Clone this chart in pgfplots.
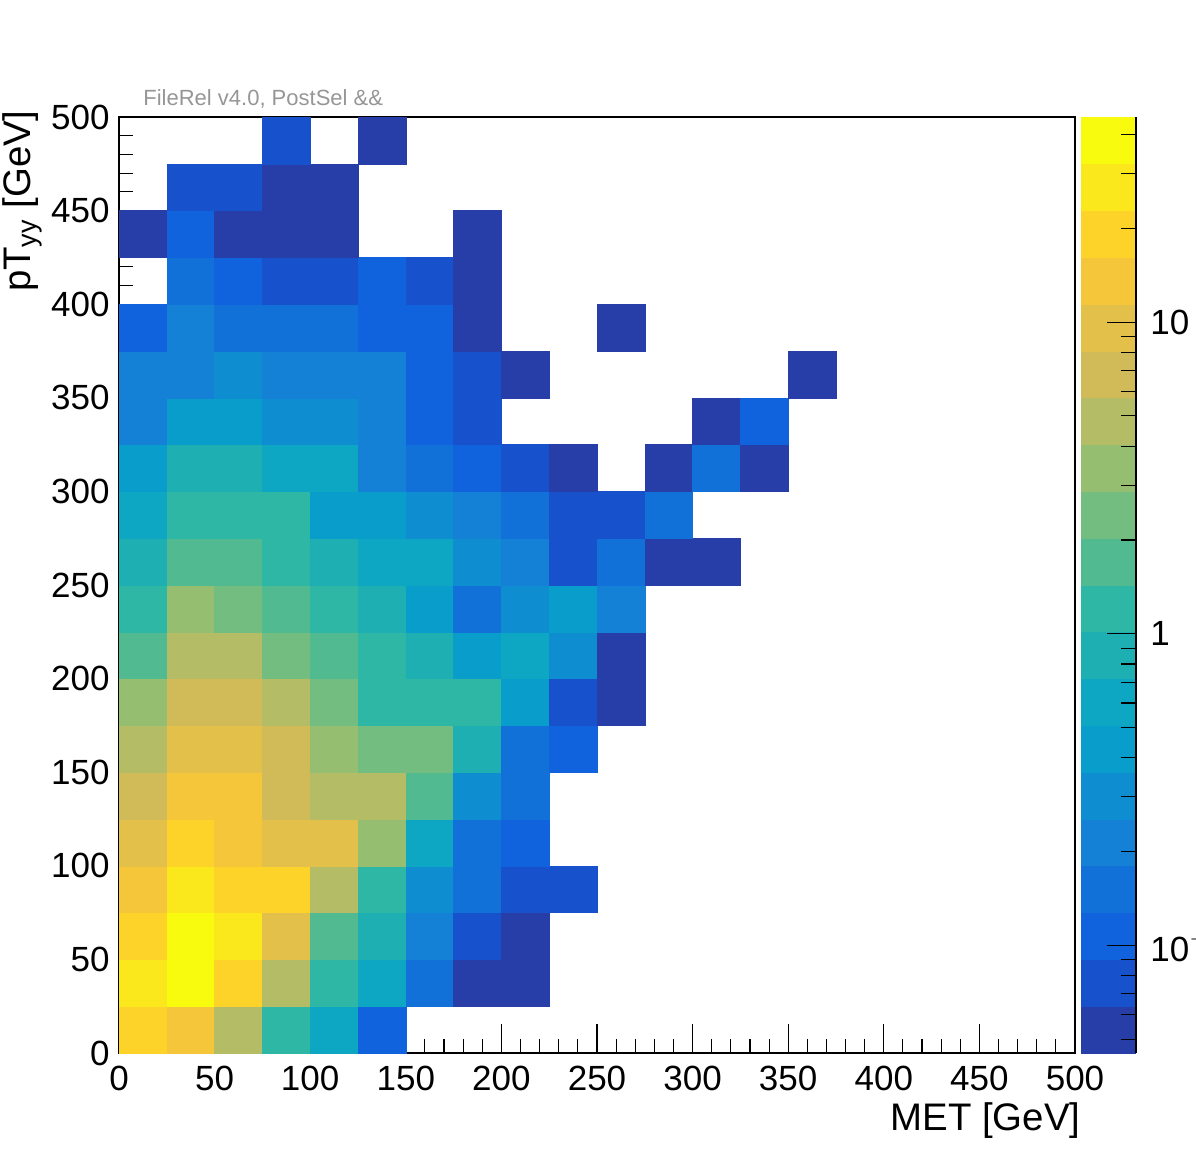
\documentclass[border=0pt]{standalone}
\usepackage{pgfplots}
\usepackage{pgfplotstable}
\pgfplotsset{compat=1.18}
\usepackage{fontspec}
\setmainfont{Liberation Sans}
\definecolor{titlegray}{RGB}{150,150,150}

% cell centres (x = MET, y = pT_yy) and bin content w
\pgfplotstableread{
x y w
12.5 12.5 19.17
37.5 12.5 13.57
62.5 12.5 4.808
87.5 12.5 1.206
112.5 12.5 0.6040
137.5 12.5 0.1073
12.5 37.5 27.09
37.5 37.5 38.28
62.5 37.5 19.17
87.5 37.5 4.808
112.5 37.5 1.206
137.5 37.5 0.6040
162.5 37.5 0.1516
187.5 37.5 0.0537
212.5 37.5 0.0537
12.5 62.5 19.17
37.5 62.5 38.28
62.5 62.5 27.09
87.5 62.5 9.601
112.5 62.5 1.704
137.5 62.5 0.8538
162.5 62.5 0.2142
187.5 62.5 0.0759
212.5 62.5 0.0537
12.5 87.5 13.57
37.5 87.5 27.09
62.5 87.5 19.17
87.5 87.5 19.17
112.5 87.5 4.808
137.5 87.5 1.206
162.5 87.5 0.3025
187.5 87.5 0.1516
212.5 87.5 0.0759
237.5 87.5 0.0759
12.5 112.5 9.601
37.5 112.5 19.17
62.5 112.5 13.57
87.5 112.5 9.601
112.5 112.5 9.601
137.5 112.5 3.403
162.5 112.5 0.6040
187.5 112.5 0.1516
212.5 112.5 0.1073
12.5 137.5 6.796
37.5 137.5 13.57
62.5 137.5 13.57
87.5 137.5 6.796
112.5 137.5 4.808
137.5 137.5 4.808
162.5 137.5 1.704
187.5 137.5 0.3025
212.5 137.5 0.1516
12.5 162.5 4.808
37.5 162.5 9.601
62.5 162.5 9.601
87.5 162.5 6.796
112.5 162.5 3.403
137.5 162.5 2.408
162.5 162.5 2.408
187.5 162.5 0.8538
212.5 162.5 0.1516
237.5 162.5 0.1073
12.5 187.5 3.403
37.5 187.5 6.796
62.5 187.5 6.796
87.5 187.5 4.808
112.5 187.5 2.408
137.5 187.5 1.206
162.5 187.5 1.206
187.5 187.5 1.206
212.5 187.5 0.4276
237.5 187.5 0.0759
262.5 187.5 0.0537
12.5 212.5 1.704
37.5 212.5 4.808
62.5 212.5 4.808
87.5 212.5 2.408
112.5 212.5 1.704
137.5 212.5 1.206
162.5 212.5 0.8538
187.5 212.5 0.4276
212.5 212.5 0.6040
237.5 212.5 0.3025
262.5 212.5 0.0537
12.5 237.5 1.206
37.5 237.5 3.403
62.5 237.5 2.408
87.5 237.5 1.704
112.5 237.5 1.206
137.5 237.5 0.8538
162.5 237.5 0.4276
187.5 237.5 0.1516
212.5 237.5 0.3025
237.5 237.5 0.4276
262.5 237.5 0.2142
12.5 262.5 0.8538
37.5 262.5 1.704
62.5 262.5 1.704
87.5 262.5 1.206
112.5 262.5 0.8538
137.5 262.5 0.6040
162.5 262.5 0.6040
187.5 262.5 0.3025
212.5 262.5 0.2142
237.5 262.5 0.0759
262.5 262.5 0.1516
287.5 262.5 0.0537
312.5 262.5 0.0537
12.5 287.5 0.6040
37.5 287.5 1.206
62.5 287.5 1.206
87.5 287.5 1.206
112.5 287.5 0.4276
137.5 287.5 0.4276
162.5 287.5 0.3025
187.5 287.5 0.2142
212.5 287.5 0.1516
237.5 287.5 0.0759
262.5 287.5 0.0759
287.5 287.5 0.1516
12.5 312.5 0.4276
37.5 312.5 0.8538
62.5 312.5 0.8538
87.5 312.5 0.6040
112.5 312.5 0.6040
137.5 312.5 0.2142
162.5 312.5 0.1516
187.5 312.5 0.1073
212.5 312.5 0.0759
237.5 312.5 0.0537
287.5 312.5 0.0537
312.5 312.5 0.1516
337.5 312.5 0.0537
12.5 337.5 0.2142
37.5 337.5 0.4276
62.5 337.5 0.4276
87.5 337.5 0.3025
112.5 337.5 0.3025
137.5 337.5 0.2142
162.5 337.5 0.1073
187.5 337.5 0.0759
312.5 337.5 0.0537
337.5 337.5 0.1073
12.5 362.5 0.2142
37.5 362.5 0.2142
62.5 362.5 0.3025
87.5 362.5 0.2142
112.5 362.5 0.2142
137.5 362.5 0.2142
162.5 362.5 0.1073
187.5 362.5 0.0759
212.5 362.5 0.0537
362.5 362.5 0.0537
12.5 387.5 0.1073
37.5 387.5 0.2142
62.5 387.5 0.1516
87.5 387.5 0.1516
112.5 387.5 0.1516
137.5 387.5 0.1073
162.5 387.5 0.1073
187.5 387.5 0.0537
262.5 387.5 0.0537
37.5 412.5 0.1516
62.5 412.5 0.1073
87.5 412.5 0.0759
112.5 412.5 0.0759
137.5 412.5 0.1073
162.5 412.5 0.0759
187.5 412.5 0.0537
12.5 437.5 0.0537
37.5 437.5 0.1073
62.5 437.5 0.0537
87.5 437.5 0.0537
112.5 437.5 0.0537
187.5 437.5 0.0537
37.5 462.5 0.0759
62.5 462.5 0.0759
87.5 462.5 0.0537
112.5 462.5 0.0537
87.5 487.5 0.0759
137.5 487.5 0.0537
}\cells

\begin{document}
\begin{tikzpicture}
\begin{axis}[
  at={(59.5pt,59.5pt)}, anchor=south west,
  scale only axis, width=478pt, height=468pt,
  xmin=0, xmax=500, ymin=0, ymax=500,
  xtick={0,50,...,500}, ytick={0,50,...,500},
  minor x tick num=4, minor y tick num=4,
  tick pos=left, tick align=inside,
  major tick length=14.5pt, minor tick length=7.2pt,
  tick style={black, line width=0.55pt},
  axis line style={black, line width=0.6pt},
  axis on top,
  /pgf/number format/assume math mode=true,
  ticklabel style={font=\fontsize{17.5}{18}\selectfont},
  xticklabel style={inner sep=0pt, anchor=north, yshift=-6.5pt},
  yticklabel style={inner sep=0pt, anchor=east, xshift=-4.5pt},
  xlabel={MET [GeV]},
  ylabel={pT\textsubscript{yy} [GeV]},
  every axis x label/.style={at={(axis description cs:1.006,-0.083)}, anchor=base east, inner sep=0pt, font=\fontsize{19.2}{20}\selectfont},
  every axis y label/.style={at={(axis description cs:-0.0925,1.0075)}, rotate=90, anchor=base east, inner sep=0pt, font=\fontsize{19.2}{20}\selectfont},
  title={FileRel v4.0, PostSel \&\&},
  every axis title/.style={at={(axis description cs:0.0251,1.0128)}, anchor=base west, inner sep=0pt, font=\fontsize{11}{12}\selectfont, text=titlegray},
  colormap={bird}{rgb255=(39,61,168) rgb255=(23,81,203) rgb255=(16,99,220) rgb255=(18,113,217) rgb255=(20,128,214) rgb255=(14,142,209) rgb255=(9,157,204) rgb255=(13,167,195) rgb255=(30,175,179) rgb255=(46,183,164) rgb255=(82,186,145) rgb255=(116,189,128) rgb255=(150,190,113) rgb255=(180,189,101) rgb255=(209,187,89) rgb255=(227,192,74) rgb255=(245,198,58) rgb255=(253,211,42) rgb255=(251,232,28) rgb255=(249,251,14)},
  colormap access=piecewise constant,
  point meta min=-1.345, point meta max=1.658,
  colorbar,
  colorbar shift/.style={xshift=3pt},
  colorbar style={
    at={(parent axis.north east)}, anchor=north west,
    scale only axis, width=27.5pt, height=468pt,
    colormap access=piecewise constant,
    axis on top,
    axis x line=none,
    axis y line*=right,
    y axis line style={-, black, line width=0.6pt},
    ytick={-1,0,1},
    yticklabels={10\raisebox{0.45em}{\fontsize{12}{12}\selectfont $-$1},1,10},
    minor ytick={-1.301,-1.222,-1.155,-1.097,-1.046,-0.699,-0.523,-0.398,-0.301,-0.222,-0.155,-0.097,-0.046,0.301,0.477,0.602,0.699,0.778,0.845,0.903,0.954,1.301,1.477,1.602},
    ytick pos=right, yticklabel pos=right,
    tick align=inside,
    major tick length=14.5pt, minor tick length=7.5pt,
    tick style={black, line width=0.55pt},
    yticklabel style={inner sep=0pt, anchor=west, xshift=7pt, font=\fontsize{17.5}{18}\selectfont},
  },
]
\addplot[scatter, only marks, mark=square*, mark size=11.95pt,
  scatter/use mapped color={draw=mapped color, fill=mapped color},
  mark options={line width=0.25pt, yscale=0.9791},
  point meta={ln(\thisrow{w})/2.302585}]
  table[x=x, y=y] {\cells};
\end{axis}
\pgfresetboundingbox
\path[use as bounding box] (0,0) rectangle (598pt,586pt);
\end{tikzpicture}
\end{document}
